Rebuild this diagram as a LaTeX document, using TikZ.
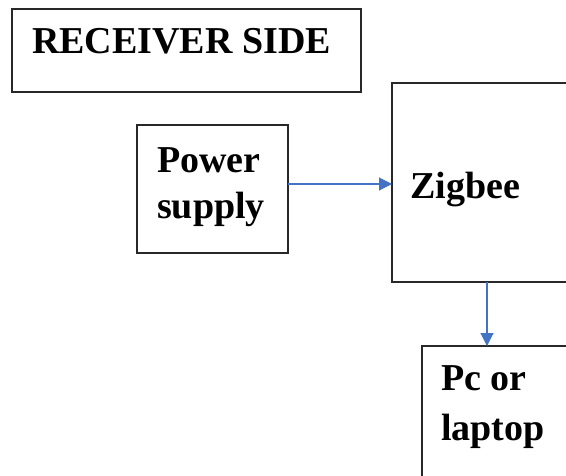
\documentclass[tikz,border=0pt]{standalone}
\usepackage{fontspec}
\setmainfont{Liberation Serif}
\usetikzlibrary{arrows.meta}
\definecolor{linkblue}{RGB}{68,114,196}
\definecolor{boxline}{RGB}{40,40,40}
\begin{document}
\begin{tikzpicture}[x=1pt,y=-1pt,
  box/.style={draw=boxline, line width=1.4pt, inner sep=0pt, outer sep=0pt, anchor=north west},
  lbl/.style={font=\fontsize{38}{46}\selectfont\bfseries, anchor=base west, inner sep=0pt},
  link/.style={draw=linkblue, line width=1.1pt, -{Triangle[length=13pt,width=13pt]}}]
\useasboundingbox (0,0) rectangle (566,475);
\clip (0,0) rectangle (566,475);
% boxes
\node[box, minimum width=349pt, minimum height=83pt] (title) at (12,9) {};
\node[box, minimum width=151pt, minimum height=128pt] (power) at (137,125) {};
\node[box, minimum width=220pt, minimum height=199pt] (zig) at (392,83) {};
\node[box, minimum width=220pt, minimum height=200pt] (pc) at (422,346) {};
% texts
\node[lbl] (ttitle) at (32,53) {RECEIVER SIDE};
\node[lbl] (tpow1) at (157,172) {Power};
\node[lbl] (tpow2) at (157,218) {supply};
\node[lbl] (tzig) at (410,198) {Zigbee};
\node[lbl] (tpc1) at (441,390) {Pc or};
\node[lbl] (tpc2) at (441,440) {laptop};
% connectors
\coordinate (a1) at ([yshift=5pt]power.east);
\draw[link] (a1) -- (a1 -| zig.west);
\coordinate (a2) at ([xshift=65pt]pc.north west);
\draw[link] (a2 |- zig.south) -- (a2);
\end{tikzpicture}
\end{document}
